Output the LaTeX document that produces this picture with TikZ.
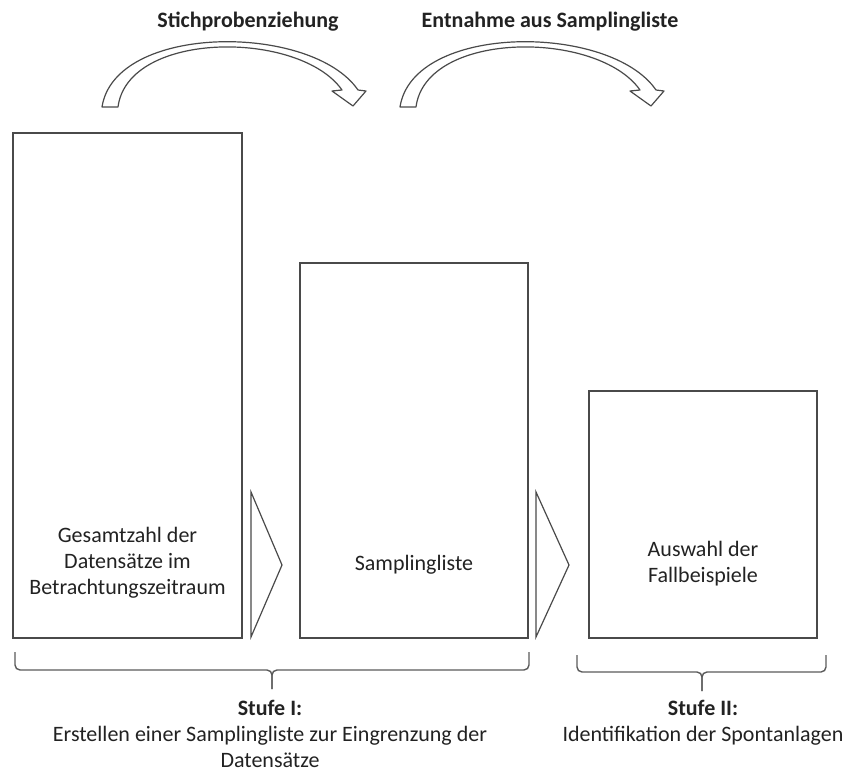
\documentclass[tikz,border=0pt]{standalone}
\usepackage{fontspec}
\setmainfont{Carlito}
\definecolor{linegray}{HTML}{4A4A4A}
\definecolor{bracegray}{HTML}{5A5A5A}
\definecolor{textdark}{HTML}{222222}
\begin{document}
\begin{tikzpicture}[x=1pt,y=-1pt,
  every node/.style={text=textdark, font=\fontsize{22}{26}\selectfont},
  stagebox/.style={draw=linegray, line width=1.4pt, inner sep=0pt},
  boxlabel/.style={align=center, inner sep=0pt},
  headline/.style={font=\fontsize{22}{26}\selectfont\bfseries, inner sep=0pt},
  bendarrow/.style={draw=linegray, line width=1.2pt, fill=white, line join=round},
  steptri/.style={draw=linegray, line width=1.2pt, line join=miter},
  bracket/.style={draw=bracegray, line width=1.4pt, rounded corners=5pt},
  stagetext/.style={align=center, inner sep=0pt, anchor=north}]
\useasboundingbox (0,0) rectangle (844,776);

% the three stages
\node[stagebox, minimum width=229pt, minimum height=505pt] (total) at (127.5,385.5) {};
\node[stagebox, minimum width=228pt, minimum height=375pt] (list) at (414,450.5) {};
\node[stagebox, minimum width=228pt, minimum height=247pt] (cases) at (703,514.5) {};

\node[boxlabel] (totaltxt) at (127.5,563) {Gesamtzahl der\\Datensätze im\\Betrachtungszeitraum};
\node[boxlabel] (listtxt) at (414,565) {Samplingliste};
\node[boxlabel] (casestxt) at (703,564) {Auswahl der\\Fallbeispiele};

% step triangles between the stages
\draw[steptri] (251,492) -- (282,565) -- (251,637) -- cycle;
\draw[steptri] (536,492) -- (569,565) -- (536,637) -- cycle;

% curved block arrows above the stages
\foreach \dx in {0,298}{
  \begin{scope}[xshift=\dx pt]
    \draw[bendarrow] (102,107) .. controls (115,23) and (312,23) .. (358,90)
      -- (366,91) -- (353,106) -- (332,91) -- (342,90)
      .. controls (300,30) and (128,30) .. (118,107) -- cycle;
  \end{scope}
}
\node[headline] (capdraw) at (248,22) {Stichprobenziehung};
\node[headline] (captake) at (550,22) {Entnahme aus Samplingliste};

% braces grouping the stages
\draw[bracket] (15,652) -- (15,670) -- (272,670) -- (272,689);
\draw[bracket] (529,652) -- (529,670) -- (272,670) -- (272,689);
\draw[bracket] (577,655) -- (577,672) -- (702,672) -- (702,691);
\draw[bracket] (826,655) -- (826,672) -- (702,672) -- (702,691);

\node[stagetext] (stage1) at (270,700) {\textbf{Stufe I:}\\Erstellen einer Samplingliste zur Eingrenzung der\\Datensätze};
\node[stagetext] (stage2) at (703,700) {\textbf{Stufe II:}\\Identifikation der Spontanlagen};
\end{tikzpicture}
\end{document}
